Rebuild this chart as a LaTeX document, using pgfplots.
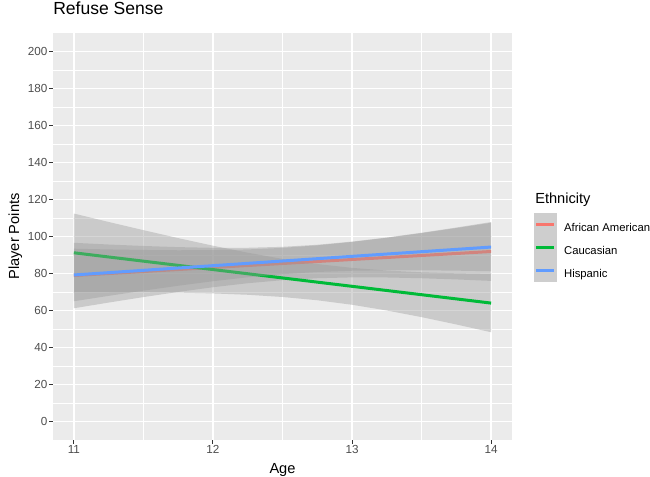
\documentclass[border=0pt]{standalone}
\usepackage{fontspec}
\setmainfont{Liberation Sans}
\usepackage{pgfplots}
\pgfplotsset{compat=1.18}
\definecolor{panel}{HTML}{EBEBEB}
\definecolor{band}{HTML}{999999}
\definecolor{aa}{HTML}{F8766D}
\definecolor{cau}{HTML}{00BA38}
\definecolor{his}{HTML}{619CFF}
\definecolor{g30}{HTML}{4D4D4D}
\definecolor{g20}{HTML}{333333}
\definecolor{keybg}{HTML}{F2F2F2}
\begin{document}
\begin{tikzpicture}
\path[use as bounding box] (0,0) rectangle (487.5bp,357.75bp);
\begin{axis}[
  at={(39.75bp,27.75bp)}, anchor=south west,
  scale only axis, width=344.25bp, height=305.25bp,
  xmin=10.85, xmax=14.15, ymin=-10, ymax=210,
  axis background/.style={fill=panel},
  axis line style={draw=none},
  xtick={11,12,13,14}, minor xtick={11.5,12.5,13.5},
  ytick={0,20,...,200}, minor ytick={10,30,...,190},
  grid=both,
  major grid style={white, line width=1.4bp},
  minor grid style={white, line width=0.7bp},
  tick align=outside, xtick pos=bottom, ytick pos=left,
  major tick length=2.75bp, minor tick length=0pt,
  major tick style={g20, line width=0.75bp},
  tick label style={font=\fontsize{8.8}{10}\selectfont, text=g30},
  /pgf/number format/assume math mode=true,
  yticklabel style={inner sep=1.35bp},
  xticklabel style={inner sep=1.35bp},
  title={Refuse Sense},
  title style={at={(axis description cs:0,1.0262)}, anchor=base west, inner sep=0pt, font=\fontsize{13.2}{15}\selectfont},
  xlabel={Age},
  xlabel style={at={(axis description cs:0.5,-0.0818)}, anchor=base, inner sep=0pt, font=\fontsize{11}{13}\selectfont},
  ylabel={Player Points},
  ylabel style={at={(axis description cs:-0.07407,0.5)}, anchor=base, inner sep=0pt, font=\fontsize{11}{13}\selectfont},
  legend style={at={(axis description cs:1.04793,0.5584)}, anchor=north west, draw=none, fill=none,
    inner sep=0pt, outer sep=0pt, row sep=0pt, column sep=5.6bp,
    nodes={inner sep=0pt, font=\fontsize{8.5}{10}\selectfont, text=black}},
  legend cell align=left,
  legend image code/.code={
    \fill[keybg, draw=none] (0bp,-5.475bp) rectangle (17bp,11.775bp);
    \fill[band, fill opacity=0.4, draw=none] (0bp,-5.475bp) rectangle (17bp,11.775bp);
    \draw[#1] (1.5bp,3.1bp) -- (15.2bp,3.1bp);
  },
]
% African American
\addplot[fill=band, fill opacity=0.4, draw=none, forget plot] coordinates {
(11,96.59)(11.25,95.67)(11.5,94.88)(11.75,94.26)(12,93.88)(12.25,93.90)(12.5,94.41)(12.75,95.52)(13,97.24)(13.25,99.45)(13.5,102.02)(13.75,104.84)(14,107.81)
(14,75.99)(13.75,76.80)(13.5,77.44)(13.25,77.85)(13,77.90)(12.75,77.44)(12.5,76.39)(12.25,74.74)(12,72.58)(11.75,70.04)(11.5,67.26)(11.25,64.29)(11,61.21)};
\addplot[aa, line width=2.25bp] coordinates {(11,78.9)(12,83.23)(13,87.57)(14,91.9)};
\addlegendentry{African American}
% Caucasian
\addplot[fill=band, fill opacity=0.4, draw=none, forget plot] coordinates {
(11,112.4)(11.25,107.86)(11.5,103.43)(11.75,99.13)(12,95.03)(12.25,91.24)(12.5,87.89)(12.75,85.12)(13,83.04)(13.25,81.59)(13.5,80.66)(13.75,80.09)(14,79.76)
(14,48.24)(13.75,52.45)(13.5,56.42)(13.25,60.01)(13,63.10)(12.75,65.54)(12.5,67.31)(12.25,68.50)(12,69.23)(11.75,69.67)(11.5,69.91)(11.25,70.0)(11,70.0)};
\addplot[cau, line width=2.25bp] coordinates {(11,91.2)(12,82.13)(13,73.07)(14,64.0)};
\addlegendentry{Caucasian}
% Hispanic
\addplot[fill=band, fill opacity=0.4, draw=none, forget plot] coordinates {
(11,93.40)(11.25,93.01)(11.5,92.72)(11.75,92.56)(12,92.63)(12.25,93.02)(12.5,93.85)(12.75,95.20)(13,97.05)(13.25,99.29)(13.5,101.82)(13.75,104.55)(14,107.40)
(14,81.20)(13.75,81.53)(13.5,81.74)(13.25,81.75)(13,81.49)(12.75,80.82)(12.5,79.65)(12.25,77.96)(12,75.83)(11.75,73.38)(11.5,70.72)(11.25,67.91)(11,65.00)};
\addplot[his, line width=2.25bp] coordinates {(11,79.2)(12,84.23)(13,89.27)(14,94.3)};
\addlegendentry{Hispanic}
\end{axis}
\node[anchor=base west, inner sep=0pt, font=\fontsize{11}{13}\selectfont] at (401.25bp,204.75bp) {Ethnicity};
\end{tikzpicture}
\end{document}
